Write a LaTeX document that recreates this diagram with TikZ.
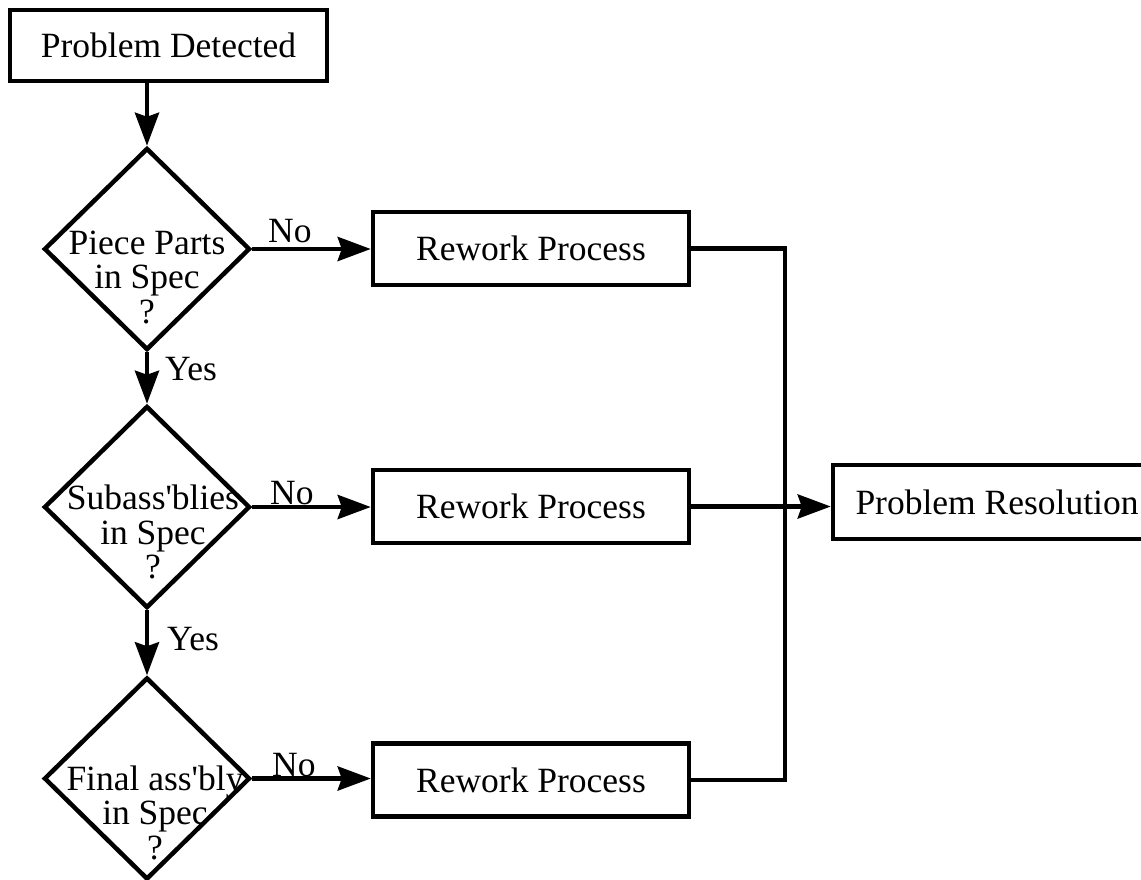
\documentclass[tikz,border=0pt]{standalone}
\usepackage{fontspec}
\setmainfont{Liberation Serif}
\usetikzlibrary{arrows.meta,shapes.geometric,calc}
\begin{document}
\begin{tikzpicture}[x=1pt,y=-1pt,
  every node/.style={font=\fontsize{35.5}{34.5}\selectfont},
  flowline/.style={line width=4.5pt},
  arr/.style={flowline,-{Stealth[length=33pt,width=24pt,inset=4pt]}},
  procbox/.style={draw,line width=4.5pt,rectangle,minimum width=316pt,minimum height=73pt,inner sep=0pt},
  decision/.style={draw,line width=4.5pt,diamond,minimum width=206pt,minimum height=202pt,inner sep=0pt},
  qtext/.style={align=center,inner sep=0pt},
  tag/.style={anchor=base west,inner sep=0pt}]
\useasboundingbox (0,0) rectangle (1141,879);

% start box
\node[procbox,minimum width=317pt,minimum height=71pt] (pd) at (168.5,45.5) {Problem Detected};

% decision diamonds and their questions
\node[decision] (d1) at (147,249) {};
\node[qtext] (q1) at ([yshift=-28pt]d1.center) {Piece Parts\\in Spec\\?};
\node[decision] (d2) at (147,507) {};
\node[qtext] (q2) at ([xshift=6pt,yshift=-25pt]d2.center) {Subass\textquotesingle blies\\in Spec\\?};
\node[decision] (d3) at (147,778.5) {};
\node[qtext] (q3) at ([xshift=8pt,yshift=-34pt]d3.center) {Final ass\textquotesingle bly\\in Spec\\?};

% rework boxes
\node[procbox] (r1) at (531,248.5) {Rework Process};
\node[procbox] (r2) at (531,506.5) {Rework Process};
\node[procbox] (r3) at (531,780) {Rework Process};

% end box
\node[procbox,minimum width=328pt,minimum height=74pt] (pr) at (997,502) {Problem Resolution};

% branch labels
\node[tag] (no1) at (268,242) {No};
\node[tag] (no2) at (270,504) {No};
\node[tag] (no3) at (272,776) {No};
\node[tag] (yes1) at (165,380) {Yes};
\node[tag] (yes2) at (167,650) {Yes};

% main flow
\draw[arr] (pd.south -| d1.north) -- (d1.north);
\draw[arr] (d1.south) -- (d2.north);
\draw[arr] (d2.south) -- (d3.north);

% "No" branches
\draw[arr] (d1.east) -- (d1.east -| r1.west);
\draw[arr] (d2.east) -- (d2.east -| r2.west);
\draw[arr] (d3.east) -- (d3.east -| r3.west);

% collecting bus to the resolution box
\coordinate (bus) at (785,0);
\draw[flowline] (r1.east) -| (bus |- r3.east) -- (r3.east);
\draw[arr] (r2.east) -- (r2.east -| pr.west);
\end{tikzpicture}
\end{document}
